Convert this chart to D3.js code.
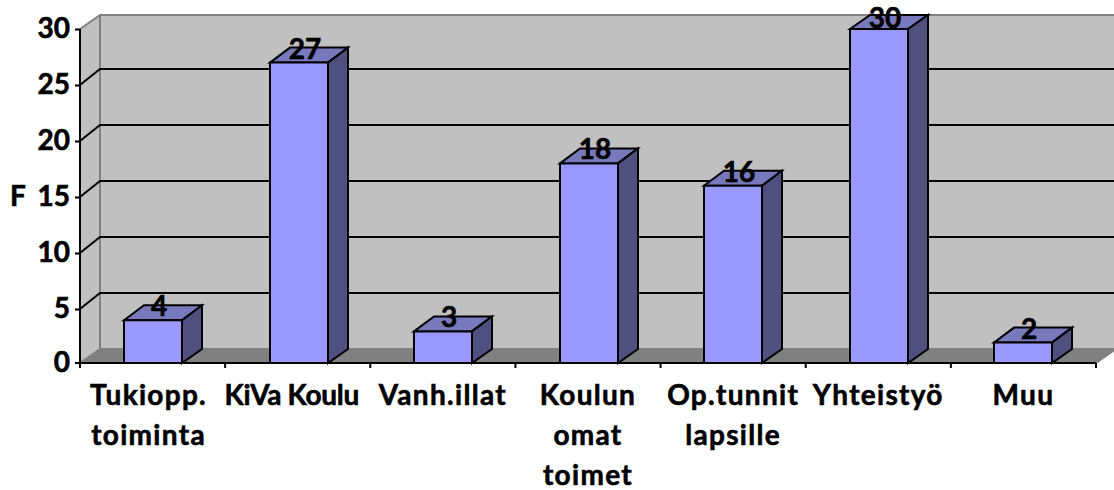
<!DOCTYPE html>
<html><head><meta charset="utf-8">
<script src="https://cdn.jsdelivr.net/npm/d3@7/dist/d3.min.js"></script>
<style>html,body{margin:0;background:#fff}svg{display:block}text{font-family:"Lato","Open Sans",sans-serif;font-weight:700;fill:#000;stroke:#000;stroke-width:.6px}</style>
</head><body><svg id="c" width="1114" height="490"></svg>
<script>
const categories=[["Tukiopp.","toiminta"],["KiVa Koulu"],["Vanh.illat"],["Koulun","omat","toimet"],["Op.tunnit","lapsille"],["Yhteistyö"],["Muu"]];
const values=[4,27,3,18,16,30,2];
const yTicks=[0,5,10,15,20,25,30];
const yTitle="F";

const svg=d3.select("#c");
const dx=20,dyBar=-15,dyGrid=-16;
const x=d3.scaleBand().domain(d3.range(values.length)).range([80,1096]);
const y=d3.scaleLinear().domain([0,30]).range([365,29]);
const bw=58,fs=28;
const line=d3.line();
const poly=(pts,fill)=>svg.append("path").attr("d",line(pts)+"Z").attr("fill",fill);

const L=x.range()[0],R=x.range()[1],Y0=363,Y1=y(30),BT=15,BB=349;
poly([[L+dx,BT],[R+dx,BT],[R+dx,BB],[L+dx,BB]],"#c0c0c0");
poly([[L,Y1],[L+dx,BT],[L+dx,BB],[L,Y0]],"#c0c0c0");
poly([[L,Y0],[L+dx,BB],[R+dx,BB],[R,Y0]],"#808080");
const edge=[[[L,Y1],[L+dx,BT]],[[L+dx,BT],[R+dx,BT]],[[L+dx,BT],[L+dx,BB]],[[L,Y0],[L+dx,BB]],[[L+dx,BB],[R+dx,BB]],[[R,Y0],[R+dx,BB]]];
svg.append("g").selectAll("path").data(edge).join("path").attr("d",d=>line(d)).attr("stroke","#808080").attr("stroke-width",2).attr("fill","none");
svg.append("g").selectAll("path").data(yTicks.filter(t=>t>0&&t<30)).join("path")
 .attr("d",t=>line([[L,y(t)],[L+dx,y(t)+dyGrid],[R+dx,y(t)+dyGrid]])).attr("stroke","#000").attr("stroke-width",2).attr("fill","none");
// y axis
const yAxis=d3.axisLeft(y).tickValues(yTicks).tickSize(5).tickPadding(5);
const gy=svg.append("g").attr("transform",`translate(${L},0)`).call(yAxis);
gy.select(".domain").attr("d",line([[0,Y1],[0,Y0+5]])).attr("stroke","#000").attr("stroke-width",2);
gy.selectAll(".tick line").attr("stroke","#000").attr("stroke-width",2);
gy.selectAll(".tick").filter(d=>d===0).attr("transform",`translate(0,${Y0})`);
gy.selectAll("text").attr("font-size",fs).attr("font-family",'Lato');
// x axis
const xTickPos=d3.range(values.length+1).map(i=>L+i*x.step());
svg.append("path").attr("d",line([[L,Y0],[R,Y0]])).attr("stroke","#000").attr("stroke-width",2);
svg.append("g").selectAll("path").data(xTickPos).join("path").attr("d",p=>line([[p,Y0],[p,Y0+5]])).attr("stroke","#000").attr("stroke-width",2);
// bars
const bars=svg.append("g").selectAll("g").data(values).join("g");
bars.each(function(v,i){
  const a=Math.round(x(i)+(x.step()-bw)/2)+(i%2),b=a+bw,t=y(v),tb=Math.max(BT,t+dyBar);
  const g=d3.select(this);
  const p=(pts,fill)=>g.append("path").attr("d",line(pts)+"Z").attr("fill",fill).attr("stroke","#000").attr("stroke-width",2);
  p([[a,t],[a+dx,tb],[b+dx,tb],[b,t]],"#7878bd");
  p([[b,t],[b+dx,tb],[b+dx,BB],[b,Y0]],"#4f4f80");
  p([[a,t],[b,t],[b,Y0],[a,Y0]],"#9999ff");
  g.append("text").attr("x",(a+b)/2+6).attr("y",Math.max(t-4,28)).attr("text-anchor","middle").attr("font-size",fs).text(v);
});
// category labels
const lab=svg.append("g").selectAll("text").data(categories).join("text")
 .attr("text-anchor","middle").attr("font-size",fs).attr("y",405)
 .attr("letter-spacing",(d,i)=>i===1?-0.3:1.3);
lab.each(function(lines,i){
  d3.select(this).selectAll("tspan").data(lines).join("tspan")
   .attr("x",x(i)+x.bandwidth()/2-(i<2?4:0)-(i===1?2:0)).attr("y",(d,k)=>405+k*40).text(d=>d);
});
svg.append("text").attr("x",18).attr("y",206).attr("text-anchor","middle").attr("font-size",fs).text(yTitle);
</script></body></html>
